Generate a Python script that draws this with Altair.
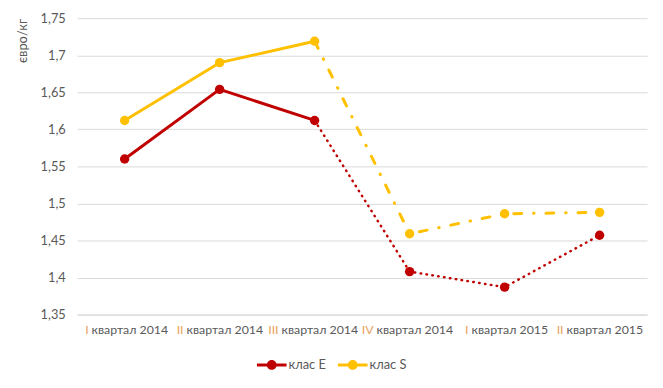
import altair as alt
import pandas as pd

quarters = ["I квартал 2014", "II квартал 2014", "III квартал 2014",
            "IV квартал 2014", "I квартал 2015", "II квартал 2015"]
class_e = [1.56, 1.654, 1.612, 1.408, 1.387, 1.457]
class_s = [1.612, 1.690, 1.719, 1.459, 1.486, 1.488]
series_names = ["клас E", "клас S"]
y_ticks = [1.35, 1.4, 1.45, 1.5, 1.55, 1.6, 1.65, 1.7, 1.75]

rows = []
for name, vals in zip(series_names, [class_e, class_s]):
    for i, (q, v) in enumerate(zip(quarters, vals)):
        rows.append({"series": name, "quarter": q, "value": v, "idx": i})
df = pd.DataFrame(rows)

FONT = "Lato"
TXT = "#595959"
colors = ["#C00000", "#FFC000"]

color_scale = alt.Scale(domain=series_names, range=colors)

x_main = alt.X(
    "quarter:N", sort=quarters, title=None,
    scale=alt.Scale(paddingInner=0, paddingOuter=0.5),
    axis=alt.Axis(
        orient="bottom", labelAngle=0, ticks=False, domain=True,
        domainColor="#D9D9D9", domainWidth=1, grid=False,
        labelExpr="substring(datum.label, indexof(datum.label, ' ') + 1)",
        labelAlign="left", labelOffset=-34, labelPadding=9,
        labelFont=FONT, labelFontSize=12.5, labelColor=TXT,
    ),
)
x_roman = alt.X(
    "quarter:N", sort=quarters, title=None,
    scale=alt.Scale(paddingInner=0, paddingOuter=0.5),
    axis=alt.Axis(
        orient="bottom", labelAngle=0, ticks=False, domain=False, grid=False,
        labelExpr="substring(datum.label, 0, indexof(datum.label, ' '))",
        labelAlign="right", labelOffset=-37, labelPadding=9,
        labelFont=FONT, labelFontSize=12.5, labelColor="#E8A15A",
    ),
)
y_enc = alt.Y(
    "value:Q", title="євро/кг",
    scale=alt.Scale(domain=[1.35, 1.75], nice=False, zero=False),
    axis=alt.Axis(
        values=y_ticks, ticks=False, domain=False, grid=True,
        gridColor="#D9D9D9", gridWidth=1,
        labelExpr="replace(format(datum.value, '.2~f'), '.', ',')",
        labelPadding=12, labelFont=FONT, labelFontSize=13, labelColor=TXT,
        titleFont=FONT, titleFontSize=13, titleColor=TXT, titleFontWeight="normal",
        titleAngle=-90, titleAlign="right", titleBaseline="middle",
        titleX=-55, titleY=0,
    ),
)

legend_path = ("M-1,-0.1 L1,-0.1 L1,0.1 L-1,0.1 Z "
               "M0.33,0 A0.33,0.33 0 1,1 -0.33,0 A0.33,0.33 0 1,1 0.33,0 Z")
legend = alt.Legend(
    orient="none", legendX=182, legendY=336, direction="horizontal",
    symbolType=legend_path, symbolSize=900, symbolStrokeWidth=0,
    symbolOpacity=1, columnPadding=12, labelOffset=2,
    labelFont=FONT, labelFontSize=13, labelColor=TXT,
)
color_enc = alt.Color("series:N", scale=color_scale, title=None, legend=legend)

base = alt.Chart(df)

solid = base.transform_filter("datum.idx <= 2").mark_line(
    strokeWidth=3, strokeCap="round", strokeJoin="round"
).encode(x=x_main, y=y_enc, color=color_enc)

dotted_e = base.transform_filter("datum.idx >= 2 && datum.series == 'клас E'").mark_line(
    strokeWidth=2.5, strokeCap="round", strokeDash=[0.5, 5.5]
).encode(x=x_main, y=y_enc, color=color_enc)

dashdot_s = base.transform_filter("datum.idx >= 2 && datum.series == 'клас S'").mark_line(
    strokeWidth=3, strokeCap="round", strokeDash=[8, 12, 0.5, 12]
).encode(x=x_main, y=y_enc, color=color_enc)

points = base.mark_point(filled=True, size=90, opacity=1).encode(
    x=x_main, y=y_enc, color=color_enc
)

roman_axis = base.mark_point(opacity=0).encode(x=x_roman, y=y_enc)

main = alt.layer(solid, dotted_e, dashdot_s, points)
chart = alt.layer(main, roman_axis).resolve_axis(x="independent").properties(
    width=577, height=300,
    autosize=alt.AutoSizeParams(type="none"),
    padding={"left": 70, "top": 8, "right": 8, "bottom": 72},
).configure_view(stroke=None)

chart.save("out.html", embed_options={"renderer": "svg", "actions": False})
